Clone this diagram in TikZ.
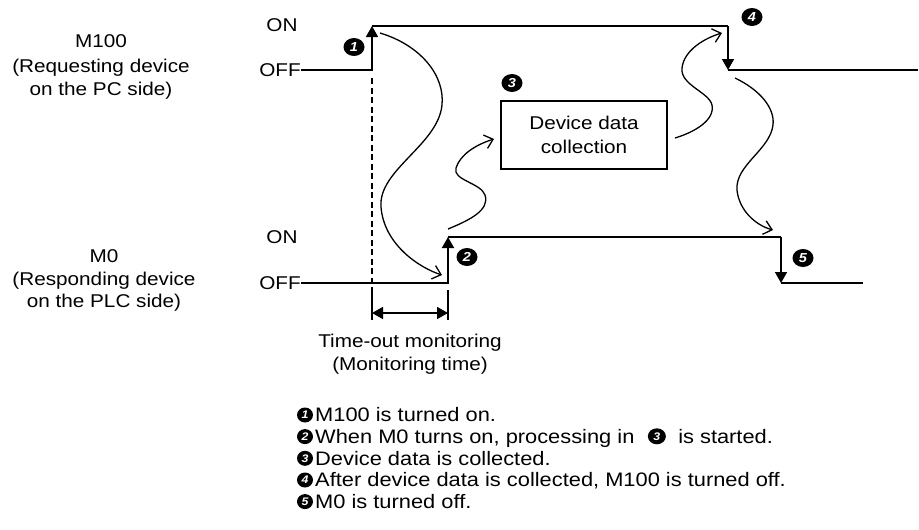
\documentclass[tikz,border=0pt]{standalone}
\usepackage{fontspec}
\setmainfont[FakeStretch=1.12]{Liberation Sans}
\usetikzlibrary{arrows.meta,shapes.geometric}
\begin{document}
\begin{tikzpicture}[x=1pt,y=-1pt,
  every node/.style={font=\fontsize{18.5}{23.5}\selectfont, inner sep=0pt},
  sig/.style={line width=1.6pt},
  tri/.style={-{Triangle[length=11pt,width=12pt]}},
  wave/.style={line width=1.3pt,-{Straight Barb[length=8pt,width=14pt]}},
  numc/.style={ellipse,fill=black,text=white,minimum width=21pt,minimum height=18pt,inner sep=0pt,font=\fontsize{13}{13}\selectfont\bfseries\itshape},
  numl/.style={numc,minimum width=16pt,minimum height=15pt,font=\fontsize{11}{11}\selectfont\bfseries\itshape},
  lbl/.style={anchor=base},
  leg/.style={anchor=base west,font=\fontsize{19.5}{22}\selectfont},
]
\useasboundingbox (0,0) rectangle (919,530);

% left labels
\node[lbl] (m100a) at (101,47) {M100};
\node[lbl] (m100b) at (101,72) {(Requesting device};
\node[lbl] (m100c) at (101,95) {on the PC side)};
\node[lbl] (m0a) at (104,262) {M0};
\node[lbl] (m0b) at (104,285) {(Responding device};
\node[lbl] (m0c) at (104,307) {on the PLC side)};

% ON / OFF labels
\node (on1) at (282,25) {ON};
\node[anchor=east] (off1) at (301,70) {OFF};
\node (on2) at (282,237) {ON};
\node[anchor=east] (off2) at (301,283) {OFF};

% M100 signal
\coordinate (a1) at (372,70);
\coordinate (a2) at (372,26);
\coordinate (a3) at (728,26);
\coordinate (a4) at (728,70);
\coordinate (a5) at (918,70);
\draw[sig,tri] (off1.east) -- (a1) -- (a2);
\draw[sig] (a2) -- (a3);
\draw[sig,tri] (a3) -- (a4);
\draw[sig] (a4) -- (a5);

% M0 signal
\coordinate (b1) at (448,283);
\coordinate (b2) at (448,237);
\coordinate (b3) at (781,237);
\coordinate (b4) at (781,283);
\coordinate (b5) at (863,283);
\draw[sig,tri] (off2.east) -- (b1) -- (b2);
\draw[sig] (b2) -- (b3);
\draw[sig,tri] (b3) -- (b4);
\draw[sig] (b4) -- (b5);

% time-out monitoring
\coordinate (d0) at (372,78);
\coordinate (d1) at (372,290);
\coordinate (d2) at (372,320);
\coordinate (e1) at (448,290);
\coordinate (e2) at (448,320);
\draw[line width=1.5pt,dash pattern=on 6pt off 3.5pt] (d0) -- (d1);
\draw[line width=1.5pt] (d1) -- (d2);
\draw[line width=1.5pt] (e1) -- (e2);
\coordinate (f1) at (372,313);
\coordinate (f2) at (448,313);
\draw[line width=1.6pt,{Triangle[length=11pt,width=12pt]}-{Triangle[length=11pt,width=12pt]}] (f1) -- (f2);
\node[lbl] (to1) at (410,347) {Time-out monitoring};
\node[lbl] (to2) at (410,370) {(Monitoring time)};

% device data collection box
\node[draw,line width=1.2pt,minimum width=166pt,minimum height=68pt,align=center] (box) at (584,135) {Device data\\collection};

% numbered markers in the diagram
\node[numc] (c1) at (354,47) {1};
\node[numc] (c2) at (467,257) {2};
\node[numc] (c3) at (512,83) {3};
\node[numc] (c4) at (752,17) {4};
\node[numc] (c5) at (803,258) {5};

% wavy arrows
\coordinate (w1s) at (380,33);
\coordinate (w1e) at (442,275);
\draw[wave] (w1s) .. controls (420,45) and (445,75) .. (442,105)
  .. controls (438,145) and (378,170) .. (381,207)
  .. controls (384,245) and (420,268) .. (w1e);
\coordinate (w2s) at (448,229);
\coordinate (w2e) at (494,139);
\draw[wave] (w2s) .. controls (470,220) and (490,210) .. (485,195)
  .. controls (481,183) and (452,180) .. (456,168)
  .. controls (460,155) and (475,145) .. (w2e);
\coordinate (w3s) at (675,138);
\coordinate (w3e) at (722,33);
\draw[wave] (w3s) .. controls (695,132) and (715,120) .. (712,105)
  .. controls (709,92) and (680,85) .. (682,68)
  .. controls (684,50) and (705,38) .. (w3e);
\coordinate (w4s) at (735,78);
\coordinate (w4e) at (773,230);
\draw[wave] (w4s) .. controls (760,90) and (775,108) .. (773,125)
  .. controls (770,150) and (735,165) .. (737,190)
  .. controls (739,210) and (755,225) .. (w4e);

% legend
\node[numl] (n1) at (305,415) {1};
\node[leg] (t1) at (315,421.7) {M100 is turned on.};
\node[numl] (n2) at (305,436.6) {2};
\node[leg] (t2a) at (315,443.3) {When M0 turns on, processing in};
\node[numl,minimum width=18pt,minimum height=16pt,anchor=west] (t2n) at ([xshift=13pt,yshift=7pt]t2a.base east) {3};
\path (t2n.east |- t2a.base) coordinate (t2c);
\node[leg] (t2b) at ([xshift=12pt]t2c) {is started.};
\node[numl] (n3) at (305,458.3) {3};
\node[leg] (t3) at (315,465) {Device data is collected.};
\node[numl] (n4) at (305,480) {4};
\node[leg] (t4) at (315,486.7) {After device data is collected, M100 is turned off.};
\node[numl] (n5) at (305,501.6) {5};
\node[leg] (t5) at (315,508.3) {M0 is turned off.};
\end{tikzpicture}
\end{document}
